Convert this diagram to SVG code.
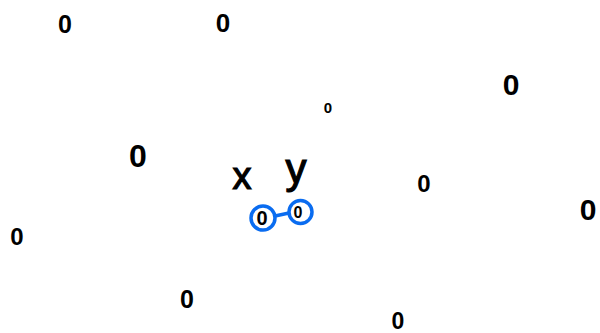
<svg xmlns="http://www.w3.org/2000/svg" width="600" height="333" viewBox="0 0 600 333">
<style>
.d{font-family:"Liberation Sans",Arial,sans-serif;font-weight:bold;fill:#000;text-anchor:middle}
.lbl{font-family:"Liberation Sans",Arial,sans-serif;fill:#000;text-anchor:middle;stroke:#000;stroke-width:1.2}
.ring{fill:none;stroke:#0a6cf0;stroke-width:3.5}
.link{stroke:#0a6cf0;stroke-width:3.5;fill:none}
</style>
<rect width="600" height="333" fill="#fff"/>
<g id="connectors">
<line class="link" x1="275" y1="216" x2="289" y2="213"/>
</g>
<g id="n1"><text class="d" x="65" y="33" font-size="25">0</text></g>
<g id="n2"><text class="d" x="223" y="32" font-size="26">0</text></g>
<g id="n3"><text class="d" x="328" y="113" font-size="15">0</text></g>
<g id="n4"><text class="d" x="511" y="95" font-size="30">0</text></g>
<g id="n5"><text class="d" x="424" y="192" font-size="24">0</text></g>
<g id="n6"><text class="d" x="138" y="167" font-size="32">0</text></g>
<g id="n7"><text class="d" x="17" y="245" font-size="24">0</text></g>
<g id="n8"><text class="d" x="187" y="308" font-size="25">0</text></g>
<g id="n9"><text class="d" x="398" y="329" font-size="23">0</text></g>
<g id="n10"><text class="d" x="588" y="220" font-size="30">0</text></g>
<g id="n11"><circle class="ring" cx="263" cy="218" r="12"/><text class="d" x="262" y="225" font-size="20">0</text></g>
<g id="n12"><circle class="ring" cx="300.5" cy="212" r="11.5"/><text class="d" x="298" y="218" font-size="16">0</text></g>
<g id="label-x"><text class="lbl" x="242" y="189" font-size="38">x</text></g>
<g id="label-y"><text class="lbl" x="296" y="183" font-size="42">y</text></g>
</svg>
